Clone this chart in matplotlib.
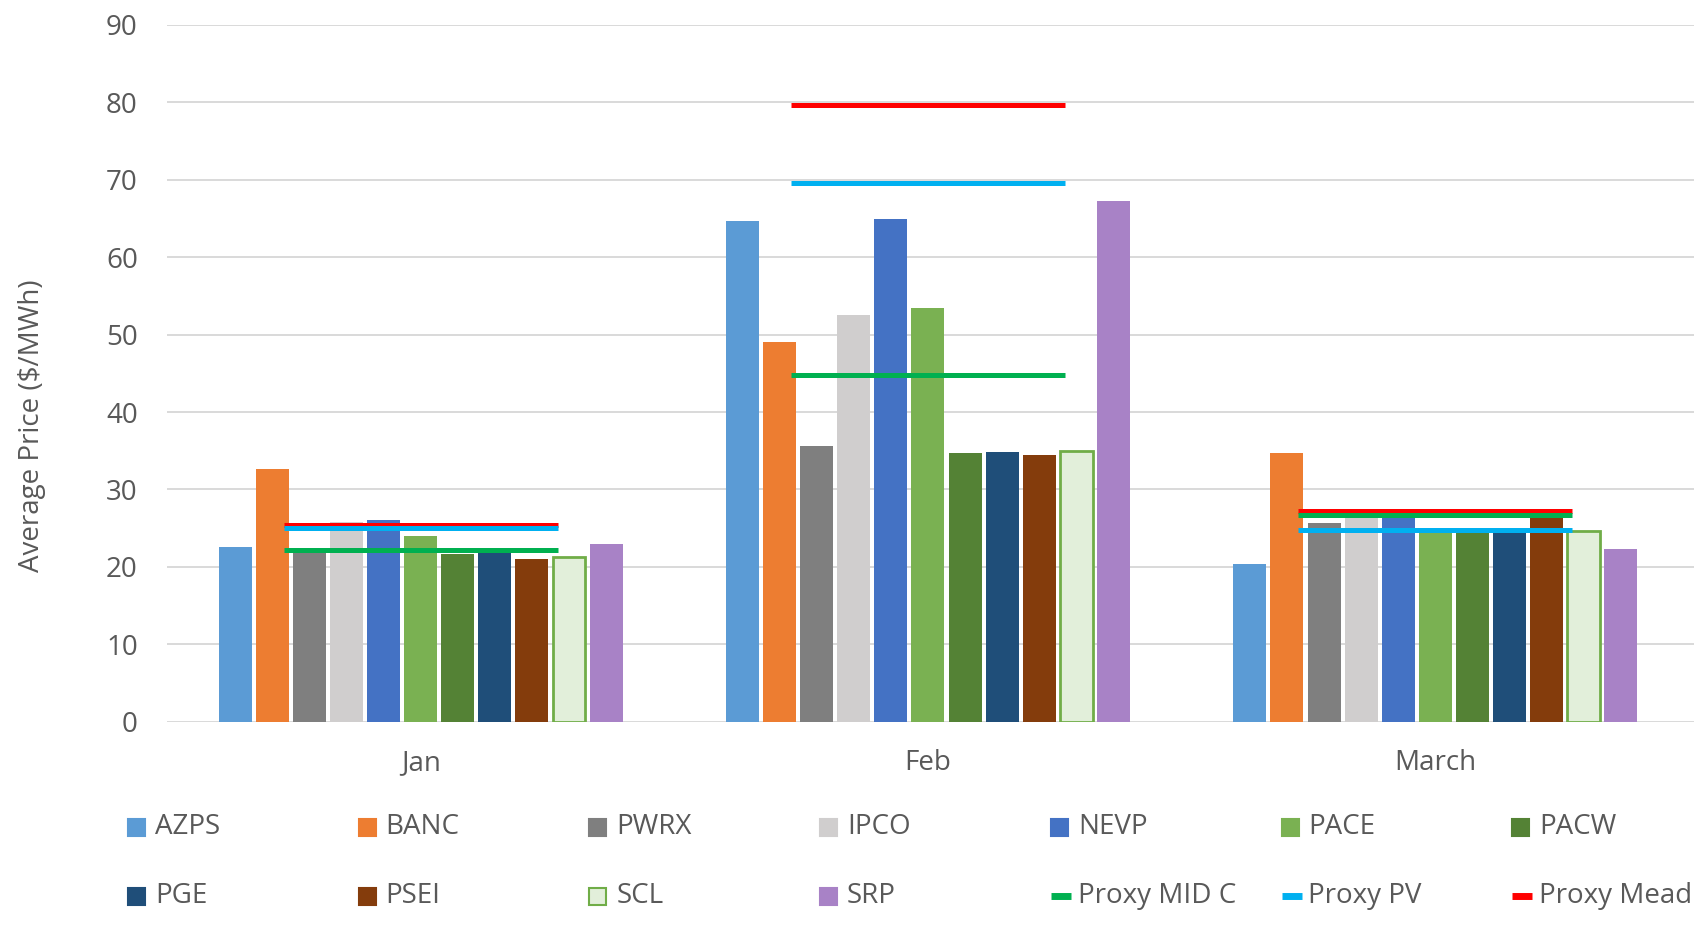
import numpy as np
import matplotlib
matplotlib.use("Agg")
import matplotlib.pyplot as plt
from matplotlib.patches import Rectangle
from matplotlib.lines import Line2D

# categories and series
months = ["Jan", "Feb", "March"]
bar_names = ["AZPS", "BANC", "PWRX", "IPCO", "NEVP", "PACE", "PACW",
             "PGE", "PSEI", "SCL", "SRP"]
bar_values = [
    [22.6, 64.7, 20.4],   # AZPS
    [32.7, 49.1, 34.7],   # BANC
    [22.3, 35.6, 25.7],   # PWRX
    [25.8, 52.5, 26.3],   # IPCO
    [26.0, 64.9, 26.5],   # NEVP
    [24.0, 53.5, 24.4],   # PACE
    [21.7, 34.7, 24.4],   # PACW
    [22.0, 34.9, 24.4],   # PGE
    [21.0, 34.4, 26.3],   # PSEI
    [21.3, 35.0, 24.6],   # SCL
    [23.0, 67.2, 22.3],   # SRP
]
proxy_names = ["Proxy MID C", "Proxy PV", "Proxy Mead"]
proxy_values = [
    [22.2, 44.8, 26.7],   # MID C
    [25.0, 69.6, 24.7],   # PV
    [25.4, 79.6, 27.2],   # Mead
]

bar_colors = ["#5B9BD5", "#ED7D31", "#7F7F7F", "#D0CECE", "#4472C4", "#7AB152",
              "#548235", "#1F4E79", "#843C0C", "#E2EFDA", "#A882C6"]
bar_edges = [None] * 9 + ["#70AD47", None]
proxy_colors = ["#00B050", "#00B0F0", "#FF0000"]

text_color = "#595959"
font = ["Open Sans", "DejaVu Sans"]
fsize = 20

W, H = 1697, 936
fig = plt.figure(figsize=(W / 100, H / 100), dpi=100)
ax = fig.add_axes([167 / W, 0.229, (1694 - 167) / W, 0.9733 - 0.229])

x = np.arange(len(months))
pitch = 0.0731
width = 0.065
n = len(bar_names)
for i, (name, vals) in enumerate(zip(bar_names, bar_values)):
    pos = x + (i - (n - 1) / 2) * pitch
    if bar_edges[i]:
        ax.bar(pos, vals, width, color=bar_colors[i], edgecolor=bar_edges[i],
               linewidth=2, zorder=2)
    else:
        ax.bar(pos, vals, width, color=bar_colors[i], linewidth=0, zorder=2)

# proxy prices as short horizontal lines over each month (Mead drawn first)
half = 0.27
for j in [2, 1, 0]:
    for k, v in enumerate(proxy_values[j]):
        ax.plot([x[k] - half, x[k] + half], [v, v], color=proxy_colors[j],
                lw=3.6, solid_capstyle="butt", zorder=3 + (2 - j))

ax.set_xlim(-0.5, 2.51)
ax.set_ylim(0, 90)
ax.set_yticks(range(0, 91, 10))
ax.set_xticks(x)
ax.set_xticklabels(months)
ax.grid(axis="y", color="#D9D9D9", linewidth=1.4, zorder=0)
ax.set_axisbelow(True)
for s in ax.spines.values():
    s.set_visible(False)
ax.tick_params(axis="both", length=0, colors=text_color, labelsize=fsize)
ax.tick_params(axis="y", pad=21)
ax.tick_params(axis="x", pad=20)
for lab in ax.get_xticklabels() + ax.get_yticklabels():
    lab.set_family(font)

fig.text(32 / W, 1 - 426 / H, "Average Price ($/MWh)", rotation=90,
         ha="center", va="center", fontsize=fsize, color=text_color,
         family=font)

# legend, two rows of seven, evenly spaced like the original
leg_names = bar_names + proxy_names
col_x = [128 + 230.7 * c for c in range(7)]
row_y = [827, 896]
for idx, name in enumerate(leg_names):
    r, c = divmod(idx, 7)
    px, py = col_x[c], row_y[r]
    if idx < n:
        ec = bar_edges[idx] if bar_edges[idx] else bar_colors[idx]
        fig.add_artist(Rectangle((px / W, 1 - (py + 8.5) / H), 17 / W, 17 / H,
                                 transform=fig.transFigure, facecolor=bar_colors[idx],
                                 edgecolor=ec, linewidth=1.5))
    else:
        pc = proxy_colors[idx - n]
        fig.add_artist(Line2D([px / W, (px + 20) / W], [1 - py / H] * 2,
                              transform=fig.transFigure, color=pc, lw=5,
                              solid_capstyle="butt"))
    fig.text((px + 27) / W, 1 - py / H, name, ha="left", va="center",
             fontsize=fsize, color=text_color, family=font)

fig.savefig("out.png", dpi=100, facecolor="white")
